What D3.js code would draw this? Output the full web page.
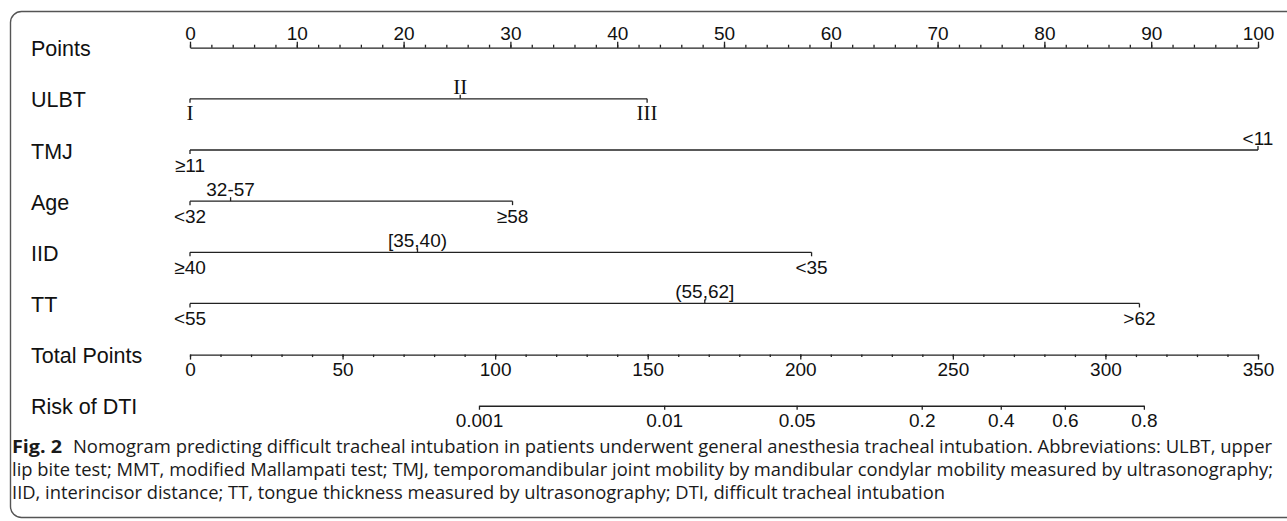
<!DOCTYPE html>
<html>
<head>
<meta charset="utf-8">
<script src="https://cdn.jsdelivr.net/npm/d3@7"></script>
<style>
  body { margin: 0; background: #fff; }
  svg { display: block; }
</style>
</head>
<body>
<div id="chart"></div>
<script>
const width = 1287;
const height = 521;
const plotLeft = 190;
const plotRight = 1258;
const rowTop = 47.7;
const rowStep = 51.15;
const ink = '#222';
const sans = '"Liberation Sans", Arial, sans-serif';
const serif = '"Liberation Serif", "Times New Roman", serif';

// rows, top to bottom
const rowLabels = ['Points', 'ULBT', 'TMJ', 'Age', 'IID', 'TT', 'Total Points', 'Risk of DTI'];

// points scale
const pointTicks = [0, 10, 20, 30, 40, 50, 60, 70, 80, 90, 100];

// predictors: level labels and the points they get
const ulbtLevels = ['I', 'II', 'III'];
const ulbtPoints = [0, 25.3, 42.8];
const tmjLevels = ['≥11', '<11'];
const tmjPoints = [0, 100];
const ageLevels = ['<32', '32-57', '≥58'];
const agePoints = [0, 3.8, 30.2];
const iidLevels = ['≥40', '[35,40)', '<35'];
const iidPoints = [0, 21.3, 58.2];
const ttLevels = ['<55', '(55,62]', '>62'];
const ttPoints = [0, 48.2, 88.9];

// total points and risk
const totalTicks = [0, 50, 100, 150, 200, 250, 300, 350];
const riskTicks = ['0.001', '0.01', '0.05', '0.2', '0.4', '0.6', '0.8'];
const riskTotalPoints = [94.7, 155.4, 198.8, 239.8, 265.7, 286.7, 312.6];

const captionLines = [
  'Nomogram predicting difficult tracheal intubation in patients underwent general anesthesia tracheal intubation. Abbreviations: ULBT, upper',
  'lip bite test; MMT, modified Mallampati test; TMJ, temporomandibular joint mobility by mandibular condylar mobility measured by ultrasonography;',
  'IID, interincisor distance; TT, tongue thickness measured by ultrasonography; DTI, difficult tracheal intubation'
];

const svg = d3.select('#chart')
  .append('svg')
  .attr('width', width)
  .attr('height', height);

// frame
svg.append('rect')
  .attr('x', 10.5)
  .attr('y', 11.5)
  .attr('width', 1320)
  .attr('height', 506)
  .attr('rx', 11)
  .attr('fill', 'none')
  .attr('stroke', '#555')
  .attr('stroke-width', 1.4);

const rowY = i => rowTop + i * rowStep;

const xPoints = d3.scaleLinear().domain([0, 100]).range([plotLeft, plotRight]);
const xTotal = d3.scaleLinear().domain([0, 350]).range([plotLeft, plotRight]);

// row labels
svg.append('g')
  .selectAll('text')
  .data(rowLabels)
  .join('text')
  .attr('x', 31)
  .attr('y', (d, i) => rowY(i) + 8.5)
  .attr('font-family', sans)
  .attr('font-size', 21.5)
  .attr('fill', '#111')
  .text(d => d);

function styleAxis(g, size) {
  g.attr('font-family', sans)
    .attr('font-size', size)
    .attr('color', ink);
  g.selectAll('path, line').attr('stroke-width', 1.3);
  g.selectAll('text').attr('fill', '#111');
}

// Points axis
const pointsG = svg.append('g').attr('transform', `translate(0,${rowY(0)})`);
pointsG.append('g')
  .call(d3.axisTop(xPoints).tickValues(xPoints.ticks(40)).tickSize(3).tickSizeOuter(0).tickFormat(''))
  .call(g => g.select('.domain').remove())
  .call(g => styleAxis(g, 19));
pointsG.append('g')
  .call(d3.axisTop(xPoints).tickValues(pointTicks).tickSize(6).tickPadding(1.5).tickSizeOuter(0))
  .call(g => styleAxis(g, 19));

// predictor rows
function drawVariable(rowIndex, levels, pts, family, size) {
  const y = rowY(rowIndex);
  const row = svg.append('g').attr('transform', `translate(0,${y})`);
  row.append('line')
    .attr('x1', xPoints(d3.min(pts)))
    .attr('x2', xPoints(d3.max(pts)))
    .attr('stroke', ink)
    .attr('stroke-width', 1.3);
  row.selectAll('line.tick')
    .data(pts)
    .join('line')
    .attr('class', 'tick')
    .attr('x1', d => xPoints(d))
    .attr('x2', d => xPoints(d))
    .attr('y1', 0)
    .attr('y2', (d, i) => i % 2 === 1 ? -4 : 4)
    .attr('stroke', ink)
    .attr('stroke-width', 1.3);
  row.selectAll('text')
    .data(levels)
    .join('text')
    .attr('x', (d, i) => xPoints(pts[i]))
    .attr('y', (d, i) => i % 2 === 1 ? -5 : 21.5)
    .attr('text-anchor', 'middle')
    .attr('font-family', family)
    .attr('font-size', size)
    .attr('fill', '#111')
    .text(d => d);
}

drawVariable(1, ulbtLevels, ulbtPoints, serif, 21);
drawVariable(2, tmjLevels, tmjPoints, sans, 19);
drawVariable(3, ageLevels, agePoints, sans, 19);
drawVariable(4, iidLevels, iidPoints, sans, 19);
drawVariable(5, ttLevels, ttPoints, sans, 19);

// Total Points axis
const totalG = svg.append('g').attr('transform', `translate(0,${rowY(6)})`);
totalG.append('g')
  .call(d3.axisBottom(xTotal).tickValues(xTotal.ticks(35)).tickSize(2.5).tickSizeOuter(0).tickFormat(''))
  .call(g => g.select('.domain').remove())
  .call(g => styleAxis(g, 19));
totalG.append('g')
  .call(d3.axisBottom(xTotal).tickValues(totalTicks).tickSize(5).tickPadding(3).tickSizeOuter(0))
  .call(g => styleAxis(g, 19));

// Risk axis
const riskExtent = d3.extent(riskTotalPoints);
const xRisk = d3.scaleLinear().domain(riskExtent).range(riskExtent.map(xTotal));
svg.append('g')
  .attr('transform', `translate(0,${rowY(7)})`)
  .call(d3.axisBottom(xRisk).tickValues(riskTotalPoints).tickSize(4).tickPadding(4).tickSizeOuter(0)
    .tickFormat((d, i) => riskTicks[i]))
  .call(g => styleAxis(g, 19));

// caption (lines 1-2 are justified; line 3 keeps the same squeeze as line 2)
const capFont = '"Open Sans", "Noto Sans", sans-serif';
const cap = svg.append('g').attr('font-family', capFont).attr('font-size', 17.5).attr('fill', '#1a1a1a');
cap.append('text')
  .attr('x', 12)
  .attr('y', 453)
  .attr('font-weight', 'bold')
  .attr('textLength', 50)
  .attr('lengthAdjust', 'spacingAndGlyphs')
  .text('Fig. 2');
const capL1 = cap.append('text').attr('x', 73).attr('y', 453).text(captionLines[0]);
const capL2 = cap.append('text').attr('x', 12).attr('y', 476).text(captionLines[1]);
const capL3 = cap.append('text').attr('x', 12).attr('y', 499).text(captionLines[2]);
const squeeze = 1261 / capL2.node().getComputedTextLength();
capL1.attr('textLength', 1199).attr('lengthAdjust', 'spacingAndGlyphs');
capL2.attr('textLength', 1261).attr('lengthAdjust', 'spacingAndGlyphs');
capL3.attr('textLength', capL3.node().getComputedTextLength() * squeeze).attr('lengthAdjust', 'spacingAndGlyphs');
</script>
</body>
</html>
